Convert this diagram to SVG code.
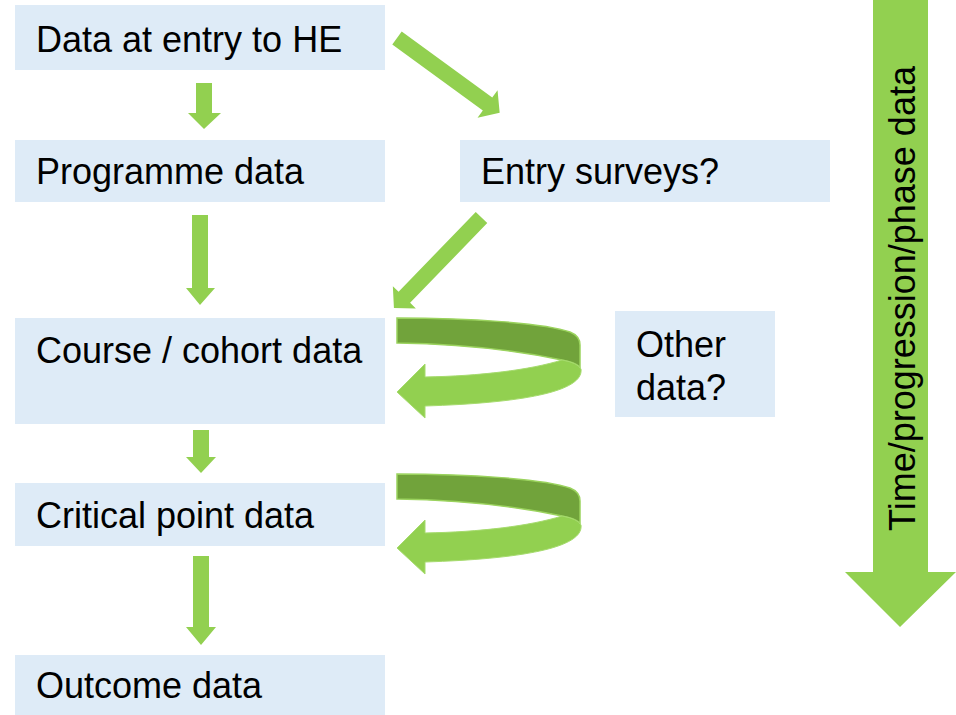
<svg xmlns="http://www.w3.org/2000/svg" width="956" height="715" viewBox="0 0 956 715">
<style>
.box{fill:#DEEBF7}
.t{font-family:"Liberation Sans",Arial,sans-serif;font-size:36px;fill:#000}
.arr{fill:#92D050}
.dark{fill:#71A33B;stroke:#9BD35E;stroke-width:1.5}
.light{fill:#92D050;stroke:#A6DB6E;stroke-width:1}
</style>
<rect width="956" height="715" fill="#fff"/>
<g id="time-arrow">
<polygon class="arr" points="873,0 928,0 928,572 956,572 900,627 845,572 873,572"/>
<text class="t" transform="translate(915,531) rotate(-90)">Time/progression/phase data</text>
</g>
<g id="n-entry">
<rect class="box" x="15" y="5" width="370" height="65"/>
<text class="t" x="36" y="52">Data at entry to HE</text>
</g>
<g id="n-programme">
<rect class="box" x="15" y="140" width="370" height="62"/>
<text class="t" x="36" y="184">Programme data</text>
</g>
<g id="n-surveys">
<rect class="box" x="460" y="140" width="370" height="62"/>
<text class="t" x="481" y="184">Entry surveys?</text>
</g>
<g id="n-course">
<rect class="box" x="15" y="318" width="370" height="106"/>
<text class="t" x="36" y="363">Course / cohort data</text>
</g>
<g id="n-other">
<rect class="box" x="615" y="311" width="160" height="106"/>
<text class="t" x="636" y="357">Other</text>
<text class="t" x="636" y="400">data?</text>
</g>
<g id="n-critical">
<rect class="box" x="15" y="483" width="370" height="63"/>
<text class="t" x="36" y="528">Critical point data</text>
</g>
<g id="n-outcome">
<rect class="box" x="15" y="655" width="370" height="60"/>
<text class="t" x="36" y="698">Outcome data</text>
</g>
<g id="connectors">
<polygon class="arr" points="196,83 212,83 212,113 221,113 204,129 188,113 196,113"/>
<polygon class="arr" points="192,215 208,215 208,288 215,288 200,305 186,288 192,288"/>
<polygon class="arr" points="193,430 209,430 209,457 216,457 201,473 186,457 193,457"/>
<polygon class="arr" points="193,556 209,556 209,627 216,627 201,645 186,627 193,627"/>
<polygon class="arr" transform="translate(397,38) rotate(36.06)" points="0,-8 112,-8 112,-17 127,0 112,17 112,8 0,8"/>
<polygon class="arr" transform="translate(481.5,217.5) rotate(134.03)" points="0,-8 111,-8 111,-16 126,0 111,16 111,8 0,8"/>
<g id="loop1">
<path class="dark" d="M397,318 C470,318 545,323 570,332 Q580,336 580,345 L580,367 Q574,362 562,360 C520,351 460,344 397,343 Z"/>
<path class="light" d="M562,360 Q578,363 581,369 C584,392 520,403 425,406 L425,418 L397,392 L425,364 L425,377 C480,376 530,370 562,360 Z"/>
</g>
<g id="loop2" transform="translate(0,156)">
<path class="dark" d="M397,318 C470,318 545,323 570,332 Q580,336 580,345 L580,367 Q574,362 562,360 C520,351 460,344 397,343 Z"/>
<path class="light" d="M562,360 Q578,363 581,369 C584,392 520,403 425,406 L425,418 L397,392 L425,364 L425,377 C480,376 530,370 562,360 Z"/>
</g>
</g>
</svg>
